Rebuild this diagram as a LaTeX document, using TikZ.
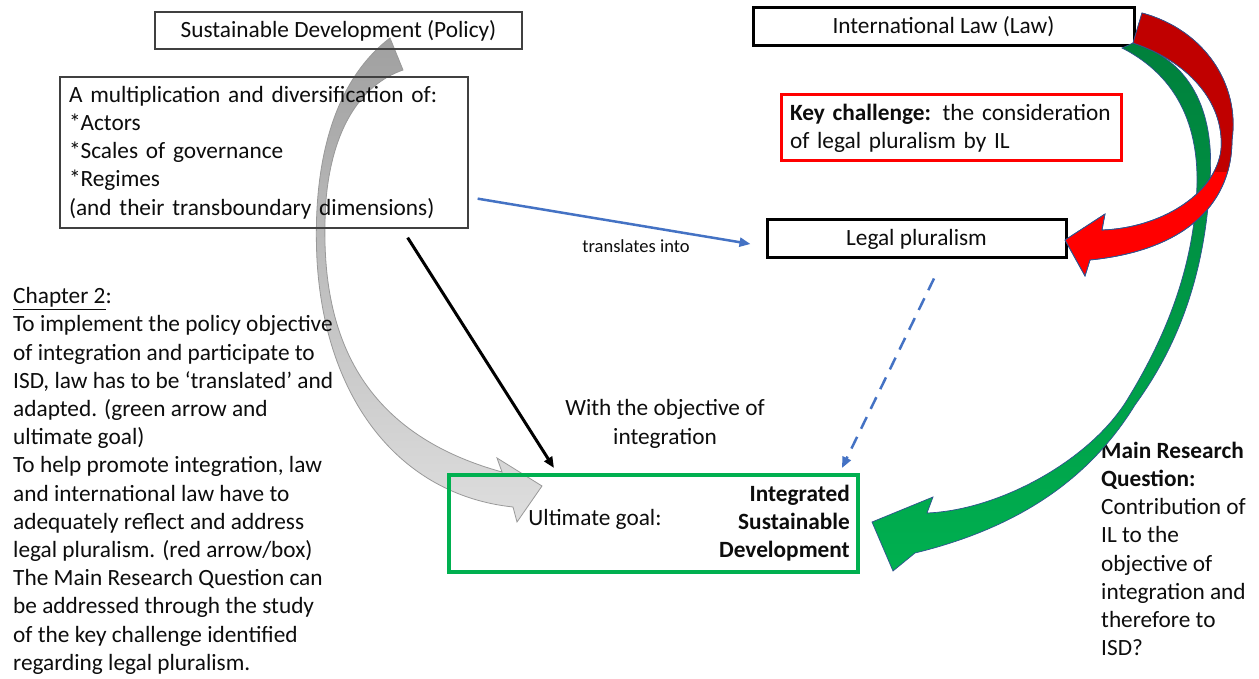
\documentclass[tikz,border=0pt]{standalone}
\usepackage{fontspec}
\setmainfont{Carlito}
\usetikzlibrary{arrows.meta,calc}
\definecolor{txtc}{RGB}{13,13,13}
\definecolor{gborder}{RGB}{64,64,64}
\definecolor{goalgreen}{RGB}{0,176,80}
\definecolor{darkgreen}{RGB}{0,128,60}
\definecolor{bluel}{RGB}{68,114,196}
\definecolor{darkred}{RGB}{192,0,0}
\definecolor{outl}{RGB}{47,82,143}
\definecolor{graytop}{RGB}{160,160,160}
\definecolor{graybot}{RGB}{222,222,222}
\newcommand\fs{\fontsize{23.3}{28.2}\selectfont}
\newcommand\fss{\fontsize{18.5}{21}\selectfont}
\def\redpath{(1133,43) -- (1142,13) .. controls (1205,30) and (1240,85) .. (1232,140) .. controls (1232,200) and (1190,250) .. (1090,260) -- (1085,276) -- (1065,240) -- (1105,214) -- (1102,230) .. controls (1160,228) and (1215,195) .. (1221,150) .. controls (1225,100) and (1185,60) .. (1133,43) -- cycle}
\def\greenpath{(1122,48) -- (1133,43) .. controls (1190,60) and (1215,110) .. (1210,180) .. controls (1205,280) and (1175,350) .. (1135,405) .. controls (1095,470) and (1030,525) .. (915,553) -- (893,571) -- (872,522) -- (933,497) -- (927,513) .. controls (1000,510) and (1090,460) .. (1127,400) .. controls (1170,330) and (1195,260) .. (1197,183) .. controls (1198,110) and (1165,70) .. (1122,48) -- cycle}
\begin{document}
\begin{tikzpicture}[x=1pt,y=-1pt,
  lbl/.style={font=\fs, text=txtc, inner sep=0pt},
  thinbox/.style={draw=gborder, line width=1.3pt, font=\fs, text=txtc, inner sep=0pt},
  thickbox/.style={draw=black, line width=3pt, font=\fs, text=txtc, inner sep=0pt},
  bluearrow/.style={draw=bluel, line width=2.5pt, -{Triangle[length=11pt,width=9pt]}},
  blackarrow/.style={draw=black, line width=3pt, -{Triangle[length=11pt,width=9pt]}},
  bigarrow/.style={draw=outl, line width=0.7pt}
]
\useasboundingbox[fill=white] (0,0) rectangle (1259,679);

% gray curved arrow (behind the goal box)
\path[draw=gray!80, line width=0.8pt, top color=graytop, bottom color=graybot]
  (390,38) -- (403,70) .. controls (360,85) and (332,130) .. (326,200)
  .. controls (318,320) and (350,430) .. (502,472) -- (497,458) -- (542,486)
  -- (517,522) -- (513,507) .. controls (400,495) and (325,400) .. (317,260)
  .. controls (312,160) and (335,80) .. (390,38) -- cycle;

% boxes
\node[thinbox, minimum width=367pt, minimum height=37pt] (sd) at (338.5,30.5) {Sustainable Development (Policy)};
\node[thinbox, minimum width=408pt, minimum height=151pt, text width=390pt, align=left, inner xsep=9pt] (mult) at (264,152.5)
  {A multiplication and diversification of:\\{}*Actors\\{}*Scales of governance\\{}*Regimes\\(and their transboundary dimensions)};
\node[thickbox, minimum width=381pt, minimum height=38pt] (il) at (943.5,27) {International Law (Law)};
\node[draw=red, line width=3pt, font=\fs, text=txtc, inner sep=0pt, minimum width=340pt, minimum height=66pt, text width=322pt, align=left, inner xsep=9pt] (kc) at (951,128)
  {\textbf{Key challenge:} the consideration\\of legal pluralism by IL};
\node[thickbox, minimum width=299pt, minimum height=38pt] (lp) at (916.5,239) {Legal pluralism};
\node[draw=goalgreen, line width=4pt, minimum width=409pt, minimum height=97pt, inner sep=0pt] (goal) at (653.5,523.5) {};
\node[lbl] (ult) at (595,519) {Ultimate goal:};
\node[lbl, font=\fs\bfseries, align=right, anchor=east] (isd) at (850,523) {Integrated\\Sustainable\\Development};
\node[lbl, align=center] (wobj) at (665,424) {With the objective of\\integration};
\node[font=\fss, text=txtc, inner sep=0pt] (trans) at (636,246) {translates into};
\node[lbl, align=left, anchor=west] (mrq) at (1101,549)
  {\textbf{Main Research}\\\textbf{Question:}\\Contribution of\\IL to the\\objective of\\integration and\\therefore to\\ISD?};
\node[lbl, align=left, anchor=west] (ch2) at (13,481)
  {\underline{Chapter 2}:\\To implement the policy objective\\of integration and participate to\\ISD, law has to be ‘translated’ and\\adapted. (green arrow and\\ultimate goal)\\To help promote integration, law\\and international law have to\\adequately reflect and address\\legal pluralism. (red arrow/box)\\The Main Research Question can\\be addressed through the study\\of the key challenge identified\\regarding legal pluralism.};

% connectors
\draw[bluearrow] ($(mult.south east)+(9,-30)$) -- ($(lp.west)+(-15,5)$);
\draw[blackarrow] ($(mult.south east)+(-61,9)$) -- ($(goal.north west)+(107,-5)$);
\draw[bluearrow, dash pattern=on 13pt off 9pt] ($(lp.south)+(17.5,19)$) -- ($(goal.north east)+(-18,-5)$);

% green curved arrow
\path[bigarrow, top color=darkgreen, bottom color=goalgreen] \greenpath;
% red curved arrow
\path[bigarrow, fill=red] \redpath;
\begin{scope}
  \clip (1100,0) rectangle (1259,172);
  \path[fill=darkred] \redpath;
\end{scope}
\path[bigarrow] \redpath;
\end{tikzpicture}
\end{document}
